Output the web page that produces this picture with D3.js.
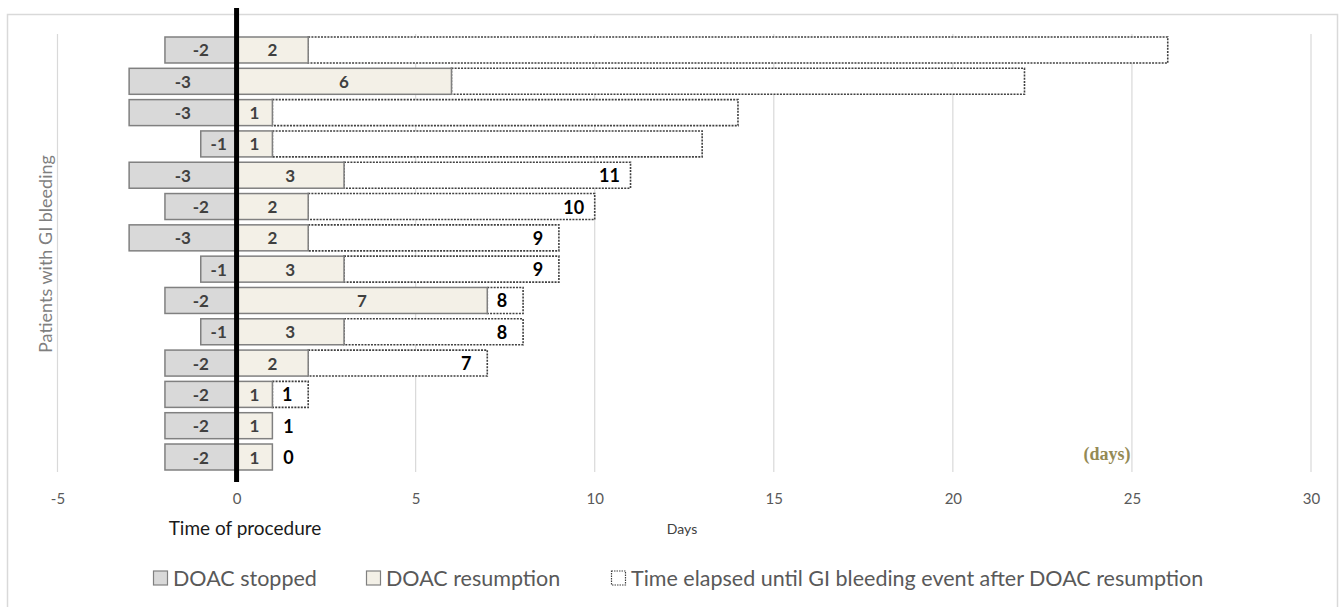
<!DOCTYPE html>
<html>
<head>
<meta charset="utf-8">
<script src="https://cdn.jsdelivr.net/npm/d3@7"></script>
<style>
  html, body { margin: 0; padding: 0; background: #fff; }
  svg { display: block; font-family: Lato, "Open Sans", sans-serif; }
</style>
</head>
<body>
<svg id="chart" width="1340" height="607"></svg>
<script>
// ---- data (top row first) ----
const patients   = ["P1","P2","P3","P4","P5","P6","P7","P8","P9","P10","P11","P12","P13","P14"];
const stopped    = [-2, -3, -3, -1, -3, -2, -3, -1, -2, -1, -2, -2, -2, -2];
const resumption = [ 2,  6,  1,  1,  3,  2,  2,  3,  7,  3,  2,  1,  1,  1];
const bleedDay   = [26, 22, 14, 13, 11, 10,  9,  9,  8,  8,  7,  2,  1,  1];
const bleedLabel = [null, null, null, null, "11", "10", "9", "9", "8", "8", "7", "1", "1", "0"];
const xTicks     = [-5, 0, 5, 10, 15, 20, 25, 30];
const legendItems = ["DOAC stopped", "DOAC resumption", "Time elapsed until GI bleeding event after DOAC resumption"];

const svg = d3.select("#chart");

// chart border
svg.append("rect").attr("x", 7.5).attr("y", 14.5).attr("width", 1330).attr("height", 600)
  .attr("fill", "none").attr("stroke", "#d9d9d9").attr("stroke-width", 1.5);

const x = d3.scaleLinear().domain([-5, 30]).range([57.5, 1311]);
const y = d3.scaleBand().domain(patients).range([35, 472]).paddingInner(0.17).paddingOuter(0.064);

// gridlines
svg.append("g").selectAll("line").data(xTicks).join("line")
  .attr("x1", d => x(d)).attr("x2", d => x(d))
  .attr("y1", 34).attr("y2", 472)
  .attr("stroke", "#d9d9d9").attr("stroke-width", 1.2);

// x axis tick labels
const xAxis = d3.axisBottom(x).tickValues(xTicks).tickSize(0).tickPadding(0).tickFormat(d3.format("d"));
const gx = svg.append("g").attr("transform", "translate(0,493)").call(xAxis);
gx.select(".domain").remove();
gx.selectAll("text").attr("fill", "#595959").style("font-size", "15px")
  .style("font-family", "Lato, 'Open Sans', sans-serif").attr("dy", "0.71em")
  .text(d => d < 0 ? "-" + Math.abs(d) : d);

const rows = patients.map((p, i) => ({
  p, s: stopped[i], r: resumption[i], b: bleedDay[i], lab: bleedLabel[i]
}));

// elapsed (dotted) boxes
svg.append("g").selectAll("rect").data(rows.filter(d => d.b > d.r)).join("rect")
  .attr("x", d => x(d.r)).attr("width", d => x(d.b) - x(d.r))
  .attr("y", d => y(d.p)).attr("height", y.bandwidth())
  .attr("fill", "#fff").attr("stroke", "#404040").attr("stroke-width", 1.6)
  .attr("stroke-dasharray", "2,1.2");

// stopped bars
svg.append("g").selectAll("rect").data(rows).join("rect")
  .attr("x", d => x(d.s)).attr("width", d => x(0) - x(d.s))
  .attr("y", d => y(d.p)).attr("height", y.bandwidth())
  .attr("fill", "#d9d9d9").attr("stroke", "#808080").attr("stroke-width", 1.5);

// resumption bars
svg.append("g").selectAll("rect").data(rows).join("rect")
  .attr("x", x(0)).attr("width", d => x(d.r) - x(0))
  .attr("y", d => y(d.p)).attr("height", y.bandwidth())
  .attr("fill", "#f3f0e7").attr("stroke", "#808080").attr("stroke-width", 1.5);

// labels stopped
svg.append("g").selectAll("text").data(rows).join("text")
  .attr("x", d => (x(d.s) + x(0)) / 2).attr("y", d => y(d.p) + y.bandwidth() / 2)
  .attr("text-anchor", "middle").attr("dominant-baseline", "central")
  .attr("fill", "#404040").style("font-size", "17px").style("font-weight", "bold")
  .text(d => "-" + Math.abs(d.s));

// labels resumption
svg.append("g").selectAll("text").data(rows).join("text")
  .attr("x", d => (x(0) + x(d.r)) / 2).attr("y", d => y(d.p) + y.bandwidth() / 2)
  .attr("text-anchor", "middle").attr("dominant-baseline", "central")
  .attr("fill", "#404040").style("font-size", "17px").style("font-weight", "bold")
  .text(d => d.r);

// labels elapsed
svg.append("g").selectAll("text").data(rows.filter(d => d.lab !== null)).join("text")
  .attr("x", d => d.b > d.r ? x(d.b) - 21 : x(d.b) + 16)
  .attr("y", d => y(d.p) + y.bandwidth() / 2)
  .attr("text-anchor", "middle").attr("dominant-baseline", "central")
  .attr("fill", "#000").style("font-size", "18px").style("font-weight", "bold")
  .text(d => d.lab);

// time of procedure line
svg.append("line").attr("x1", x(0)).attr("x2", x(0)).attr("y1", 8).attr("y2", 482)
  .attr("stroke", "#000").attr("stroke-width", 5);

// annotations
svg.append("text").attr("x", 245).attr("y", 527).attr("text-anchor", "middle")
  .attr("dominant-baseline", "central").attr("fill", "#1a1a1a").style("font-size", "19px")
  .text("Time of procedure");
svg.append("text").attr("x", 682).attr("y", 528).attr("text-anchor", "middle")
  .attr("dominant-baseline", "central").attr("fill", "#404040").style("font-size", "14px")
  .text("Days");
svg.append("text").attr("x", 1107).attr("y", 454).attr("text-anchor", "middle")
  .attr("dominant-baseline", "central").attr("fill", "#948a54")
  .style("font-family", "'Liberation Serif', 'DejaVu Serif', serif")
  .style("font-size", "18px").style("font-weight", "bold")
  .text("(days)");
svg.append("text").attr("transform", "translate(45,254) rotate(-90)")
  .attr("text-anchor", "middle").attr("dominant-baseline", "central")
  .attr("fill", "#7f7f7f").style("font-size", "18px")
  .text("Patients with GI bleeding");

// legend
const legX = [153, 366, 611];
const legStyles = [
  { fill: "#d9d9d9", stroke: "#808080", dash: null },
  { fill: "#f3f0e7", stroke: "#808080", dash: null },
  { fill: "#fff", stroke: "#404040", dash: "1.5,1" }
];
const leg = svg.append("g").selectAll("g").data(legendItems).join("g")
  .attr("transform", (d, i) => `translate(${legX[i]},578)`);
leg.append("rect").attr("x", 0.5).attr("y", -7).attr("width", 14).attr("height", 14)
  .attr("fill", (d, i) => legStyles[i].fill).attr("stroke", (d, i) => legStyles[i].stroke)
  .attr("stroke-width", 1.2).attr("stroke-dasharray", (d, i) => legStyles[i].dash);
leg.append("text").attr("x", 20).attr("y", 0).attr("dominant-baseline", "central")
  .attr("fill", "#595959").style("font-size", "21.5px").text(d => d);
</script>
</body>
</html>
